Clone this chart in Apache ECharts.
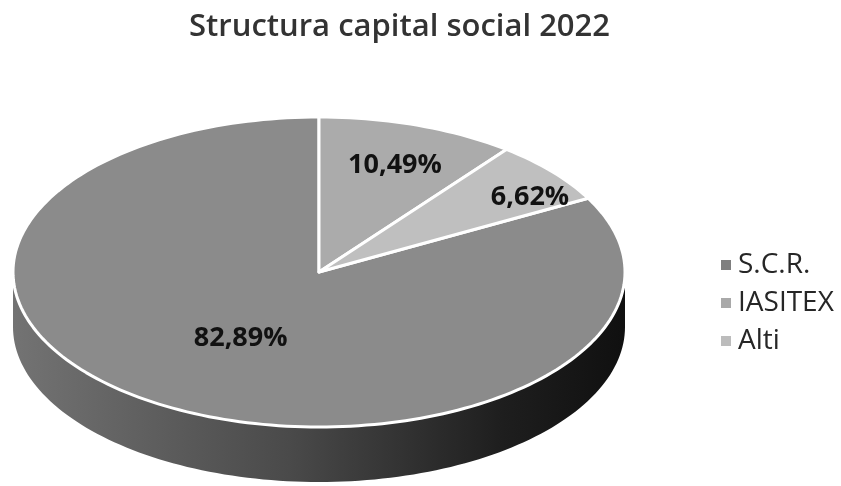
<!DOCTYPE html>
<html>
<head>
<meta charset="utf-8">
<script src="https://cdn.jsdelivr.net/npm/echarts@6/dist/echarts.min.js"></script>
<style>html,body{margin:0;padding:0;background:#fff}#c{width:841px;height:486px}</style>
</head>
<body>
<div id="c"></div>
<script>
// ---- data ----
var categories = ['S.C.R.', 'IASITEX', 'Alti'];
var shares = [82.89, 10.49, 6.62];
var labelTexts = ['82,89%', '10,49%', '6,62%'];
// ---- style ----
var topColors = ['#8b8b8b', '#ababab', '#bfbfbf'];
var legendColors = ['#7f7f7f', '#a9a9a9', '#bcbcbc'];
// label placement: [radius fraction, angle offset in degrees]
var labelPlace = [[0.5, 0], [0.73, 1], [0.84, 5.5]];

var CX = 319, CY = 272, RX = 306, RY = 155, DEPTH = 55;
// order of drawing around the pie, clockwise from 12 o'clock
var order = [1, 2, 0];

function pt(tDeg, dy) {
  var t = tDeg * Math.PI / 180;
  return [CX + RX * Math.sin(t), CY - RY * Math.cos(t) + (dy || 0)];
}
function arcPts(a0, a1, dy) {
  var pts = [];
  var n = Math.max(2, Math.ceil(Math.abs(a1 - a0) / 1.5));
  for (var i = 0; i <= n; i++) pts.push(pt(a0 + (a1 - a0) * i / n, dy));
  return pts;
}
function sliceRange(idx) {
  var total = shares.reduce(function (a, b) { return a + b; }, 0);
  var start = 0;
  for (var k = 0; k < order.length; k++) {
    var j = order[k];
    var span = shares[j] / total * 360;
    if (j === idx) return [start, start + span];
    start += span;
  }
}

var chart = echarts.init(document.getElementById('c'), null, { renderer: 'canvas' });
chart.setOption({
  animation: false,
  title: {
    text: 'Structura capital social 2022',
    left: 184, top: 7,
    textStyle: { fontFamily: 'Open Sans', fontSize: 31, fontWeight: 600, color: '#333' }
  },
  legend: {
    orient: 'vertical', left: 716, top: 246,
    itemWidth: 10, itemHeight: 10, itemGap: 10,
    icon: 'rect',
    data: categories,
    textStyle: { fontFamily: 'Open Sans', fontSize: 28, color: '#262626', lineHeight: 28, padding: [0, 0, 0, 2] }
  },
  series: [
    {
      type: 'pie', radius: [0, 0], center: [-100, -100], silent: true,
      label: { show: false }, labelLine: { show: false },
      data: categories.map(function (c, i) {
        return { name: c, value: shares[i], itemStyle: { color: legendColors[i] } };
      })
    },
    {
      type: 'custom',
      coordinateSystem: 'none',
      silent: true,
      data: shares.map(function (v, i) { return [v, i]; }),
      renderItem: function (params, api) {
        var idx = params.dataIndex;
        var r = sliceRange(idx);
        var children = [];
        // side (front half only: 90..270 deg)
        var s0 = Math.max(r[0], 90), s1 = Math.min(r[1], 270);
        if (s1 > s0) {
          var topEdge = arcPts(s0, s1, 0);
          var botEdge = arcPts(s1, s0, DEPTH);
          children.push({
            type: 'polygon',
            shape: { points: topEdge.concat(botEdge) },
            style: {
              fill: new echarts.graphic.LinearGradient(0, 0, 1, 0, [
                { offset: 0, color: '#737373' },
                { offset: 0.45, color: '#4a4a4a' },
                { offset: 0.8, color: '#1e1e1e' },
                { offset: 1, color: '#101010' }
              ]),
              stroke: null
            }
          });
        }
        // top face
        var pts = [[CX, CY]].concat(arcPts(r[0], r[1], 0));
        children.push({
          type: 'polygon',
          shape: { points: pts },
          style: { fill: topColors[idx], stroke: '#ffffff', lineWidth: 3, lineJoin: 'round' }
        });
        // label
        var lp = labelPlace[idx];
        var mid = (r[0] + r[1]) / 2 + lp[1];
        var t = mid * Math.PI / 180;
        children.push({
          type: 'text',
          x: CX + RX * lp[0] * Math.sin(t),
          y: CY - RY * lp[0] * Math.cos(t),
          style: {
            text: labelTexts[idx],
            fontFamily: 'Open Sans', fontWeight: 700, fontSize: 27,
            fill: '#111', align: 'center', verticalAlign: 'middle'
          }
        });
        return { type: 'group', children: children };
      }
    }
  ]
});
</script>
</body>
</html>
